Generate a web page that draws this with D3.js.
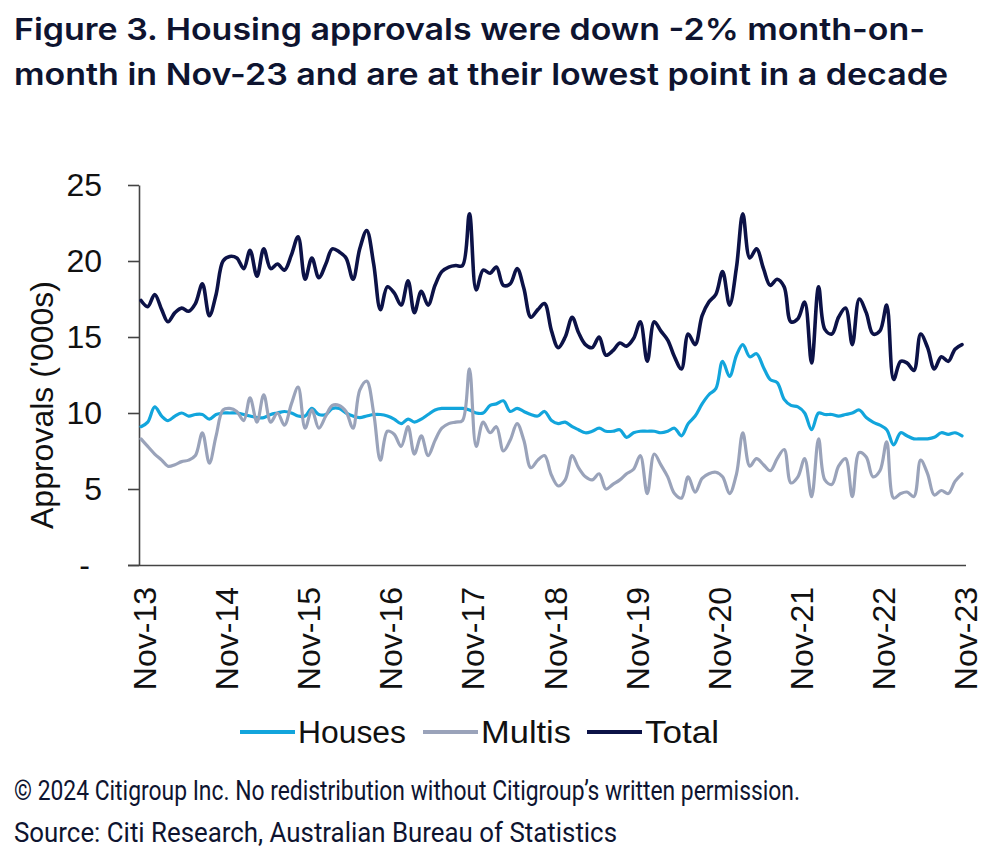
<!DOCTYPE html>
<html>
<head>
<meta charset="utf-8">
<script src="https://cdn.jsdelivr.net/npm/d3@7"></script>
<style>
html,body{margin:0;padding:0;background:#fff;}
svg{display:block;}
</style>
</head>
<body>
<svg id="chart" width="1000" height="866"></svg>
<script>
// ---- DATA (thousands of approvals, monthly Nov-13 .. Nov-23) ----
const startMonth = [2013, 10]; // Nov 2013
const houses = [9.1,9.4,10.4,9.8,9.5,9.8,10.0,9.8,9.9,9.9,9.6,9.9,10.0,10.0,10.0,9.9,9.8,9.7,9.7,9.9,
10.0,10.1,10.0,9.8,9.8,10.3,9.9,9.9,10.3,10.3,10.0,9.8,9.7,9.8,9.9,9.9,9.8,9.6,9.3,9.6,
9.4,9.6,9.9,10.2,10.3,10.3,10.3,10.3,10.2,10.0,10.0,10.5,10.6,10.8,10.1,10.3,10.1,9.9,9.8,10.1,
9.5,9.3,9.4,9.1,8.9,8.7,8.8,9.0,8.8,8.8,8.9,8.4,8.7,8.8,8.8,8.8,8.7,8.8,9.0,8.5,
9.3,9.8,10.6,11.2,11.6,13.4,12.4,13.8,14.5,13.7,13.9,13.0,12.2,12.0,10.9,10.5,10.4,10.0,8.9,10.0,
9.9,9.9,9.8,9.9,10.0,10.2,9.7,9.4,9.2,8.9,7.9,8.7,8.5,8.3,8.3,8.3,8.4,8.7,8.6,8.7,8.5];
const multis = [8.3,7.8,7.3,6.9,6.5,6.6,6.8,6.9,7.2,8.7,6.7,8.5,10.2,10.3,10.1,9.5,11.0,9.4,11.2,9.4,
10.0,9.2,10.6,11.7,9.0,10.2,9.0,9.8,10.5,10.5,10.1,9.0,11.5,12.1,10.0,6.9,8.8,8.6,7.8,9.1,
7.3,8.5,7.2,8.2,9.0,9.3,9.4,9.5,12.9,7.8,9.4,8.7,9.1,7.5,8.2,9.3,8.2,6.4,6.9,7.2,
5.9,5.2,5.6,7.2,6.4,5.8,5.6,6.0,5.0,5.3,5.6,6.0,6.3,7.2,4.7,7.3,6.6,5.8,4.7,4.4,
5.8,4.8,5.7,6.0,6.1,5.8,4.7,6.0,8.7,6.5,7.0,6.6,6.2,7.0,7.6,5.4,5.8,7.0,4.5,8.3,
5.6,5.3,6.5,7.0,4.5,7.4,7.1,5.8,6.2,8.1,4.4,4.7,4.8,4.5,6.9,6.0,4.6,4.9,4.7,5.5,6.0];
const total = [17.4,17.0,17.8,16.8,16.0,16.6,16.9,16.7,17.2,18.5,16.4,17.8,20.0,20.3,20.2,19.5,20.7,19.0,20.8,19.5,
19.8,19.4,20.4,21.6,18.8,20.2,18.9,19.8,20.8,20.6,20.2,18.8,20.8,22.0,19.8,16.8,18.3,17.9,17.1,18.7,
16.6,18.0,17.1,18.4,19.3,19.6,19.7,19.7,23.1,18.1,19.4,19.2,19.6,18.4,18.5,19.5,18.2,16.3,16.8,17.2,
15.4,14.3,15.0,16.3,15.3,14.5,14.3,15.0,13.8,14.1,14.6,14.4,14.9,16.0,13.4,16.0,15.4,14.8,13.7,12.9,
15.2,14.5,16.4,17.3,17.8,19.3,17.1,19.6,23.1,20.2,20.8,19.5,18.4,18.8,18.3,16.0,16.2,17.3,13.3,18.3,
15.5,15.2,16.3,16.9,14.5,17.5,16.6,15.2,15.4,17.1,12.2,13.4,13.3,12.8,15.2,14.3,12.9,13.7,13.4,14.2,14.5];
const seriesNames = ["Houses", "Multis", "Total"];
const seriesColors = ["#12a5dc", "#9aa3ba", "#0c1247"];
const xTickLabels = ["Nov-13","Nov-14","Nov-15","Nov-16","Nov-17","Nov-18","Nov-19","Nov-20","Nov-21","Nov-22","Nov-23"];
const yTickValues = [0, 5, 10, 15, 20, 25];
const yTickLabels = ["-", "5", "10", "15", "20", "25"];
const titleLines = ["Figure 3. Housing approvals were down -2% month-on-",
                    "month in Nov-23 and are at their lowest point in a decade"];
const yTitle = "Approvals ('000s)";
const footLines = ["\u00A9 2024 Citigroup Inc. No redistribution without Citigroup\u2019s written permission.",
                   "Source: Citi Research, Australian Bureau of Statistics"];

// ---- BUILD ----
const dates = houses.map((_, i) => new Date(startMonth[0], startMonth[1] + i, 1));
const svg = d3.select("#chart");
const ink = "#0e1430";
const sans = "'Liberation Sans', Arial, sans-serif";

const x = d3.scaleTime()
  .domain([dates[0], dates[dates.length - 1]])
  .range([141, 962]);
const y = d3.scaleLinear().domain([0, 25]).range([565, 185]);

// title
svg.append("g").selectAll("text").data(titleLines).join("text")
  .attr("x", 14).attr("y", (d, i) => 40 + i * 45)
  .attr("font-family", "Inter, 'Noto Sans', sans-serif")
  .attr("font-weight", 600).attr("font-size", 30)
  .attr("fill", ink)
  .attr("textLength", (d, i) => i === 0 ? 911 : 934)
  .attr("lengthAdjust", "spacingAndGlyphs")
  .text(d => d);

// y axis
const yAxis = d3.axisLeft(y)
  .tickValues(yTickValues)
  .tickFormat((d, i) => yTickLabels[i])
  .tickSize(11).tickPadding(26).tickSizeOuter(0);
const gy = svg.append("g").attr("transform", "translate(139,0)").call(yAxis);
gy.select(".domain").attr("stroke", "#444").attr("stroke-width", 1.6);
gy.selectAll(".tick line").attr("stroke", "#444").attr("stroke-width", 1.6);
gy.selectAll(".tick text")
  .attr("font-family", sans)
  .attr("font-size", 32).attr("fill", "#111")
  .attr("dx", (d, i) => yTickLabels[i] === "-" ? -12 : 0);

// x axis
const tickDates = xTickLabels.map((_, k) => dates[k * 12]);
const xAxis = d3.axisBottom(x)
  .tickValues(tickDates)
  .tickFormat((d, i) => xTickLabels[i])
  .tickSize(0).tickSizeOuter(0);
const gx = svg.append("g").attr("transform", "translate(0,565)").call(xAxis);
gx.select(".domain").attr("d", "M128,0.5H966").attr("stroke", "#444").attr("stroke-width", 1.6);
gx.selectAll(".tick text")
  .attr("font-family", sans)
  .attr("font-size", 32).attr("fill", "#111")
  .attr("text-anchor", "end")
  .attr("transform", "translate(3,22) rotate(-90)")
  .attr("x", 0).attr("y", 0).attr("dy", "0.36em");

// y title
svg.append("text")
  .attr("transform", "translate(53,405) rotate(-90)")
  .attr("text-anchor", "middle")
  .attr("font-family", sans)
  .attr("font-size", 32).attr("fill", "#111")
  .text(yTitle);

// lines
const seriesData = [houses, multis, total];
const line = d3.line()
  .x((d, i) => x(dates[i]))
  .y(d => y(d))
  .curve(d3.curveCatmullRom.alpha(0.5));
svg.append("g").selectAll("path").data(seriesData).join("path")
  .attr("d", d => line(d))
  .attr("fill", "none")
  .attr("stroke", (d, i) => seriesColors[i])
  .attr("stroke-width", (d, i) => i === 2 ? 3.6 : 3.2)
  .attr("stroke-linejoin", "round").attr("stroke-linecap", "round");

// legend
const legX = [240, 423, 587];
const legW = [108, 90, 74];
const lg = svg.append("g").selectAll("g").data(seriesNames).join("g")
  .attr("transform", (d, i) => `translate(${legX[i]},732)`);
lg.append("line").attr("x1", 0).attr("x2", 55).attr("y1", 0).attr("y2", 0)
  .attr("stroke", (d, i) => seriesColors[i]).attr("stroke-width", 4);
lg.append("text").attr("x", 58).attr("y", 0).attr("dy", "0.36em")
  .attr("font-family", sans)
  .attr("font-size", 31).attr("fill", "#111")
  .attr("textLength", (d, i) => legW[i])
  .attr("lengthAdjust", "spacingAndGlyphs")
  .text(d => d);

// footer
svg.append("g").selectAll("text").data(footLines).join("text")
  .attr("x", 14).attr("y", (d, i) => 800 + i * 42)
  .attr("font-family", "Roboto, 'Liberation Sans', sans-serif")
  .attr("font-size", 27).attr("fill", ink)
  .attr("textLength", (d, i) => i === 0 ? 786 : 603)
  .attr("lengthAdjust", "spacingAndGlyphs")
  .text(d => d);
</script>
</body>
</html>
